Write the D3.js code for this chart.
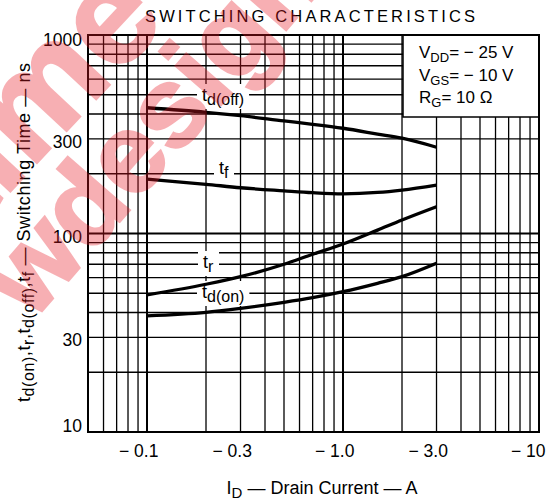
<!DOCTYPE html>
<html><head><meta charset="utf-8">
<script src="https://cdn.jsdelivr.net/npm/d3@7"></script>
<style>
body{margin:0;background:#fff}
svg{display:block}
text{font-family:"Liberation Sans",Arial,Helvetica,sans-serif;fill:#000}
</style>
</head><body>
<svg id="c" width="551" height="503"></svg>
<script>
// ---- data ----
const current = [0.1, 0.2, 0.3, 0.5, 0.7, 1.0, 1.5, 2.0, 3.0];   // |ID| in A
const tdOn  = [38.5, 40.1, 42.0, 45.0, 47.5, 50.9, 56.1, 60.6, 70.8];
const tr    = [49.0, 55.5, 60.6, 70.0, 78.6, 88.5, 104, 117, 136.5];
const tdOff = [430, 408, 392, 369, 355, 339, 317, 302, 272];
const tf    = [188, 177, 170, 164, 160.5, 158.5, 161, 165.6, 175.5];
const xTicks = [0.1, 0.3, 1.0, 3.0, 10];
const xTickLabels = ["\u2212 0.1", "\u2212 0.3", "\u2212 1.0", "\u2212 3.0", "\u2212 10"];
const yTicks = [10, 30, 100, 300, 1000];
const yTickLabels = ["10", "30", "100", "300", "1000"];

const svg = d3.select("#c");
const L = 88, R = 539, T = 35, B = 432;
const x = d3.scaleLog().domain([0.05, 10]).range([L, R]);
const y = d3.scaleLog().domain([10, 1000]).range([B, T]);

// grid values
const xGrid = [];
[0.01, 0.1, 1].forEach(d => { for (let k = 1; k <= 9; k++) { const v = +(d * k).toFixed(3); if (v >= 0.05 && v <= 10) xGrid.push(v); } });
xGrid.push(10);
const yGrid = [10, 20, 30, 40, 50, 60, 70, 80, 90, 100, 200, 300, 400, 500, 600, 700, 800, 900, 1000];
const isDecade = v => Math.abs(Math.log10(v) - Math.round(Math.log10(v))) < 1e-6;

const grid = svg.append("g");
grid.selectAll("line.v").data(xGrid).join("line")
  .attr("x1", d => x(d)).attr("x2", d => x(d)).attr("y1", T).attr("y2", B)
  .attr("stroke", "#000").attr("stroke-width", d => isDecade(d) ? 2 : 1.3);
grid.selectAll("line.h").data(yGrid).join("line")
  .attr("x1", L).attr("x2", R).attr("y1", d => y(d)).attr("y2", d => y(d))
  .attr("stroke", "#000").attr("stroke-width", d => isDecade(d) ? 2 : 1.3);

// conditions box
const box = svg.append("g");
box.append("rect").attr("x", 403).attr("y", T).attr("width", R - 403).attr("height", 117 - T)
  .attr("fill", "#fff").attr("stroke", "#000").attr("stroke-width", 1.5);
function condLine(yb, main, sub, rest) {
  const t = box.append("text").attr("x", 419).attr("y", yb).attr("font-size", 17);
  t.append("tspan").text(main);
  t.append("tspan").attr("font-size", 13).attr("dy", 4).text(sub);
  t.append("tspan").attr("dy", -4).text(rest);
}
condLine(58, "V", "DD", "= \u2212 25 V");
condLine(81, "V", "GS", "= \u2212 10 V");
condLine(103, "R", "G", "= 10 \u03A9");

// curve labels with white backgrounds
const labels = svg.append("g");
function curveLabel(xp, yb, sub) {
  const g = labels.append("g");
  const r = g.append("rect").attr("fill", "#fff");
  const t = g.append("text").attr("x", xp).attr("y", yb).attr("font-size", 18);
  t.append("tspan").text("t");
  t.append("tspan").attr("font-size", 16).attr("dy", 4).text(sub);
  const bb = t.node().getBBox();
  r.attr("x", bb.x - 5).attr("y", bb.y - 1).attr("width", bb.width + 10).attr("height", bb.height + 2);
}
curveLabel(202, 101, "d(off)");
curveLabel(219, 174, "f");
curveLabel(203, 268, "r");
curveLabel(202, 298, "d(on)");

// curves
const line = d3.line().x(d => x(d[0])).y(d => y(d[1])).curve(d3.curveMonotoneX);
[tdOn, tr, tdOff, tf].forEach(s => {
  svg.append("path").datum(current.map((c, i) => [c, s[i]]))
    .attr("d", line).attr("fill", "none").attr("stroke", "#000").attr("stroke-width", 3.3);
});

// border
svg.append("rect").attr("x", L).attr("y", T).attr("width", R - L).attr("height", B - T)
  .attr("fill", "none").attr("stroke", "#000").attr("stroke-width", 2);

// y tick labels
svg.selectAll("text.yt").data(yTicks).join("text")
  .attr("x", 82).attr("y", d => Math.min(Math.max(y(d) + 3, T + 5), B - 6))
  .attr("dy", "0.35em").attr("text-anchor", "end").attr("font-size", 17.5)
  .text((d, i) => yTickLabels[i]);

// x tick labels
svg.selectAll("text.xt").data(xTicks).join("text")
  .attr("x", d => x(d) - 28).attr("y", 457).attr("font-size", 17.5)
  .text((d, i) => xTickLabels[i]);

// title
svg.append("text").attr("x", 310).attr("y", 22).attr("text-anchor", "middle")
  .attr("font-size", 16.5).attr("textLength", 330).attr("lengthAdjust", "spacing")
  .text("SWITCHING CHARACTERISTICS");

// x title
const xt = svg.append("text").attr("x", 322).attr("y", 494).attr("text-anchor", "middle").attr("font-size", 18);
xt.append("tspan").text("I");
xt.append("tspan").attr("font-size", 15).attr("dy", 4).text("D");
xt.append("tspan").attr("dy", -4).text(" \u2014 Drain Current \u2014 A");

// y title
const yt = svg.append("text").attr("transform", "translate(30,232.5) rotate(-90)")
  .attr("text-anchor", "middle").attr("font-size", 18)
  .attr("textLength", 339).attr("lengthAdjust", "spacing");
[["t", null], ["d(on)", "s"], [",t", null], ["r", "s"], [",t", null], ["d(off)", "s"], [",t", null], ["f", "s"],
 [" \u2014 Switching Time \u2014 ns", null]].forEach((p, i, a) => {
  const ts = yt.append("tspan").text(p[0]);
  if (p[1]) ts.attr("font-size", 16).attr("dy", i > 0 && a[i - 1][1] ? 0 : 3.5);
  else if (i > 0 && a[i - 1][1]) ts.attr("dy", -3.5);
});

// watermark
const wm = svg.append("g").attr("pointer-events", "none").attr("opacity", 0.34);
wm.append("text").attr("transform", "translate(-28,232) rotate(-47)")
  .attr("font-size", 140).attr("font-weight", "bold")
  .style("fill", "rgb(232,24,36)").attr("stroke", "rgb(232,24,36)").attr("stroke-width", 3)
  .text("time");
wm.append("text").attr("transform", "translate(32,322) rotate(-49)")
  .attr("font-size", 112).attr("font-weight", "bold")
  .style("fill", "rgb(232,24,36)").attr("stroke", "rgb(232,24,36)").attr("stroke-width", 3)
  .text("wdesign");
</script>
</body></html>
